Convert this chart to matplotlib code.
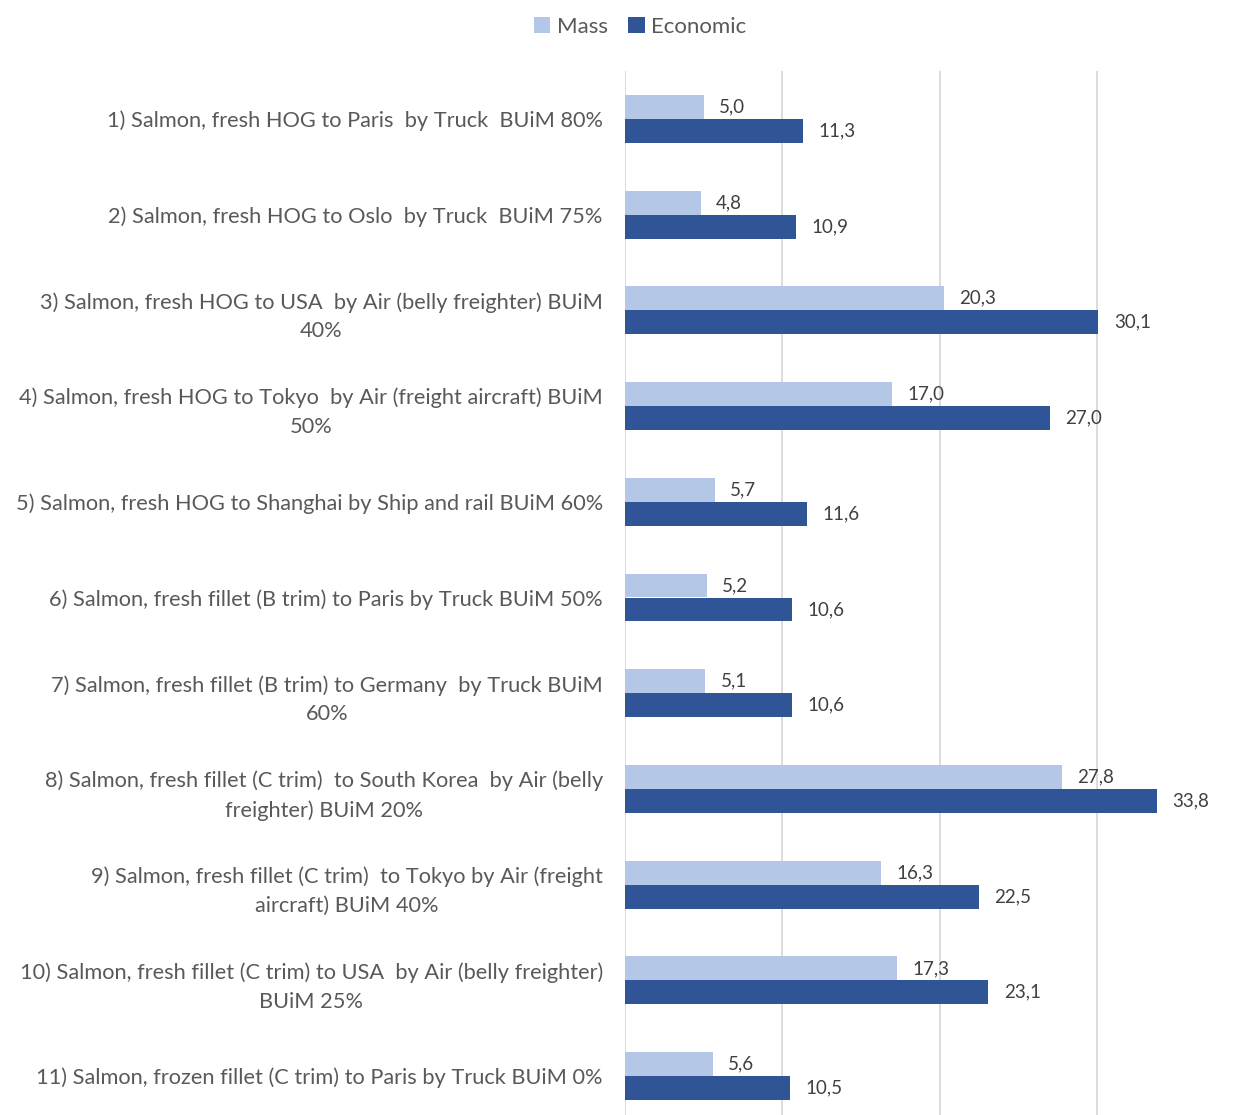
import matplotlib.pyplot as plt
import numpy as np

plt.rcParams['font.family'] = ['Lato', 'DejaVu Sans']

# data
categories = [
    "1) Salmon, fresh HOG to Paris  by Truck  BUiM 80%",
    "2) Salmon, fresh HOG to Oslo  by Truck  BUiM 75%",
    "3) Salmon, fresh HOG to USA  by Air (belly freighter) BUiM\n40%",
    "4) Salmon, fresh HOG to Tokyo  by Air (freight aircraft) BUiM\n50%",
    "5) Salmon, fresh HOG to Shanghai by Ship and rail BUiM 60%",
    "6) Salmon, fresh fillet (B trim) to Paris by Truck BUiM 50%",
    "7) Salmon, fresh fillet (B trim) to Germany  by Truck BUiM\n60%",
    "8) Salmon, fresh fillet (C trim)  to South Korea  by Air (belly\nfreighter) BUiM 20%",
    "9) Salmon, fresh fillet (C trim)  to Tokyo by Air (freight\naircraft) BUiM 40%",
    "10) Salmon, fresh fillet (C trim) to USA  by Air (belly freighter)\nBUiM 25%",
    "11) Salmon, frozen fillet (C trim) to Paris by Truck BUiM 0%",
]
mass = [5.0, 4.8, 20.3, 17.0, 5.7, 5.2, 5.1, 27.8, 16.3, 17.3, 5.6]
economic = [11.3, 10.9, 30.1, 27.0, 11.6, 10.6, 10.6, 33.8, 22.5, 23.1, 10.5]

C_MASS = '#b4c7e7'
C_ECON = '#2f5597'
TXT = '#595959'

fig = plt.figure(figsize=(12.42, 11.15), dpi=100)
ax = fig.add_axes([625 / 1242, 1 - 1124 / 1115, 1 - 625 / 1242, (1124 - 71) / 1115])

y = np.arange(len(categories))
bh = 0.25
b1 = ax.barh(y - bh / 2, mass, height=bh, color=C_MASS, label='Mass', zorder=3)
b2 = ax.barh(y + bh / 2, economic, height=bh, color=C_ECON, label='Economic', zorder=3)

for bars in (b1, b2):
    ax.bar_label(bars, labels=[f'{v:.1f}'.replace('.', ',') for v in bars.datavalues],
                 padding=11, fontsize=13.5, color='#404040')

ax.set_ylim(len(categories) - 0.5, -0.5)
ax.set_xlim(0, (1242 - 625) / 15.73)
ax.set_xticks([0, 10, 20, 30])
ax.xaxis.grid(True, color='#d9d9d9', lw=1.3, zorder=0)
ax.tick_params(axis='x', length=0, labelbottom=False)
ax.tick_params(axis='y', length=0, pad=16)
ax.set_yticks(y)
ax.set_yticklabels(categories, fontsize=15.7, color=TXT, multialignment='center',
                   linespacing=1.55)
for s in ax.spines.values():
    s.set_visible(False)

fig.legend(handles=[b1, b2], loc='center', bbox_to_anchor=(640 / 1242, 1 - 27 / 1115),
           ncol=2, frameon=False, fontsize=16, labelcolor=TXT,
           handlelength=0.75, handleheight=0.75, handletextpad=0.3, columnspacing=0.9)

fig.savefig('out.png', dpi=100, facecolor='white')
